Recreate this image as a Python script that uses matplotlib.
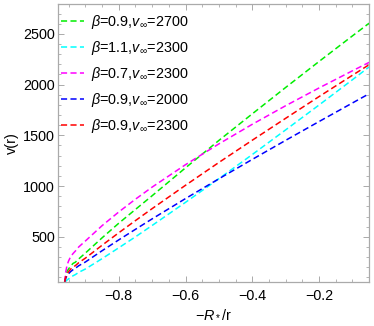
import matplotlib
matplotlib.use('Agg')
import matplotlib.pyplot as plt
from matplotlib.ticker import MultipleLocator

plt.rcParams.update({'font.family': 'Liberation Sans', 'font.size': 10.4,
                     'mathtext.fontset': 'custom',
                     'mathtext.rm': 'Liberation Sans',
                     'mathtext.it': 'Liberation Sans:italic'})

# values (x = -R*/r, v in km/s)
x = [-0.962, -0.959, -0.955, -0.95, -0.944, -0.937, -0.93, -0.92, -0.90, -0.85, -0.80,
     -0.75, -0.70, -0.60, -0.50, -0.40, -0.30, -0.20, -0.10, -0.05]
v_green = [55, 110, 160, 185, 212, 238, 250, 282, 340, 490, 634,
           770, 905, 1180, 1450, 1712, 1972, 2228, 2480, 2605]
v_cyan = [55, 62, 74, 87, 102, 116, 128, 150, 183, 285, 392,
          500, 612, 840, 1073, 1311, 1554, 1799, 2048, 2174]
v_magenta = [55, 150, 220, 265, 305, 335, 360, 400, 459, 610, 745,
             871, 990, 1211, 1416, 1609, 1792, 1967, 2136, 2219]
v_blue = [55, 90, 118, 138, 158, 176, 190, 215, 252, 363, 470,
          574, 677, 877, 1072, 1263, 1451, 1636, 1819, 1910]
v_red = [55, 100, 135, 158, 182, 203, 216, 245, 290, 417, 540,
         660, 778, 1008, 1233, 1452, 1668, 1882, 2092, 2196]

labels = [r'$\beta$=0.9,$v_\infty$=2700', r'$\beta$=1.1,$v_\infty$=2300',
          r'$\beta$=0.7,$v_\infty$=2300', r'$\beta$=0.9,$v_\infty$=2000',
          r'$\beta$=0.9,$v_\infty$=2300']
series = [v_green, v_cyan, v_magenta, v_blue, v_red]
colors = ['#00ee00', '#00ffff', '#ff00ff', '#0000ff', '#ff0000']

fig = plt.figure(figsize=(3.74, 3.26), dpi=100)
ax = fig.add_axes([0.156, 0.135, 0.831, 0.853])

for vals, c, lab in zip(series, colors, labels):
    ax.plot(x, vals, color=c, lw=1.1, dashes=(4, 2.2), label=lab)

ax.set_xlim(-0.981, -0.05)
ax.set_ylim(55, 2795)
ax.xaxis.set_minor_locator(MultipleLocator(0.05))
ax.yaxis.set_major_locator(MultipleLocator(500))
ax.yaxis.set_minor_locator(MultipleLocator(100))
ax.set_xticks([-0.8, -0.6, -0.4, -0.2])
ax.set_xticklabels(['\u22120.8', '\u22120.6', '\u22120.4', '\u22120.2'])
ax.tick_params(which='both', direction='in', top=True, right=True, color='#aaaaaa',
               labelsize=10.4)
ax.tick_params(axis='x', pad=5)
ax.tick_params(axis='y', pad=2.5)
ax.tick_params(which='major', length=4, width=0.7)
ax.tick_params(which='minor', length=2, width=0.6)
for s in ax.spines.values():
    s.set_color('#aaaaaa')
    s.set_linewidth(0.9)

ax.set_xlabel(r'$-R_*/\mathrm{r}$', fontsize=10.4, labelpad=3)
ax.set_ylabel('v(r)', fontsize=10.4, labelpad=3)

ax.legend(loc='upper left', frameon=False, fontsize=10.4, handlelength=1.6,
          handletextpad=0.5, labelspacing=0.55, borderaxespad=0.0,
          borderpad=0.3, bbox_to_anchor=(-0.006, 0.982))

fig.savefig('out.png', dpi=100)
